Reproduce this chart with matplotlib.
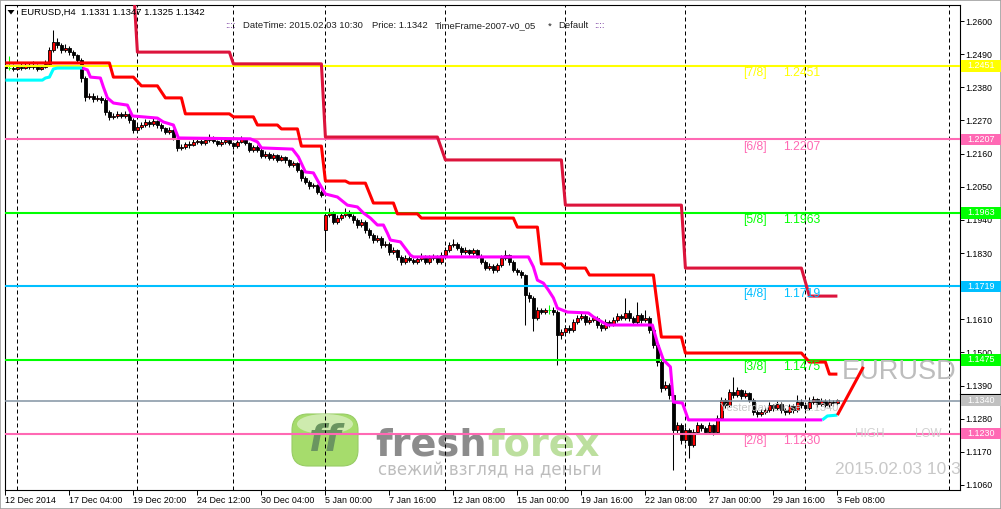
import matplotlib
matplotlib.use("Agg")
import matplotlib.pyplot as plt
import numpy as np
import matplotlib.transforms as mtransforms
from matplotlib.patches import Rectangle, FancyBboxPatch, Ellipse, Polygon
from matplotlib.lines import Line2D

plt.rcParams['font.family'] = ['Liberation Sans', 'DejaVu Sans']

W, H = 1001, 509

# ---------------- data ----------------
symbol_header = "EURUSD,H4  1.1331 1.1347 1.1325 1.1342"
first_open = 1.2451
gap_opens = {80: 1.1906}

closes = [
    1.2444, 1.2444, 1.2441, 1.2448, 1.2444, 1.2455, 1.2447, 1.2451, 1.2441, 1.2448,
    1.2458, 1.2504, 1.2531, 1.2521, 1.2504, 1.2511, 1.2497, 1.2487, 1.2471, 1.2411,
    1.2348, 1.2351, 1.2341, 1.2345, 1.2338, 1.2298, 1.2282, 1.2285, 1.2292, 1.2285,
    1.2292, 1.2272, 1.2238, 1.2248, 1.2255, 1.2265, 1.2258, 1.2268, 1.2255, 1.2245,
    1.2232, 1.2238, 1.2212, 1.2179, 1.2182, 1.2192, 1.2189, 1.2199, 1.2202, 1.2195,
    1.2205, 1.2215, 1.2202, 1.2192, 1.2199, 1.2205, 1.2195, 1.2185, 1.2199, 1.2209,
    1.2195, 1.2172, 1.2182, 1.2172, 1.2152, 1.2159, 1.2145, 1.2155, 1.2139, 1.2149,
    1.2139, 1.2122, 1.2129, 1.2106, 1.2079, 1.2066, 1.2052, 1.2056, 1.2033, 1.2023,
    1.1956, 1.1963, 1.1933, 1.1946, 1.1956, 1.1966, 1.1953, 1.1940, 1.1923, 1.1933,
    1.1906, 1.1890, 1.1873, 1.1880, 1.1857, 1.1860, 1.1833, 1.1840, 1.1817, 1.1800,
    1.1813, 1.1807, 1.1800, 1.1810, 1.1820, 1.1800, 1.1813, 1.1817, 1.1800, 1.1823,
    1.1840, 1.1857, 1.1860, 1.1847, 1.1833, 1.1840, 1.1830, 1.1840, 1.1820, 1.1800,
    1.1780, 1.1787, 1.1774, 1.1790, 1.1813, 1.1823, 1.1800, 1.1774, 1.1767, 1.1757,
    1.1690, 1.1680, 1.1614, 1.1641, 1.1634, 1.1641, 1.1641, 1.1634, 1.1558, 1.1568,
    1.1581, 1.1574, 1.1601, 1.1614, 1.1621, 1.1601, 1.1608, 1.1614, 1.1591, 1.1581,
    1.1601, 1.1594, 1.1608, 1.1621, 1.1614, 1.1631, 1.1614, 1.1601, 1.1624, 1.1608,
    1.1614, 1.1574, 1.1525, 1.1468, 1.1382, 1.1392, 1.1359, 1.1242, 1.1259, 1.1209,
    1.1242, 1.1193, 1.1236, 1.1259, 1.1249, 1.1236, 1.1259, 1.1236, 1.1282, 1.1342,
    1.1325, 1.1369, 1.1359, 1.1375, 1.1355, 1.1365, 1.1342, 1.1302, 1.1295, 1.1302,
    1.1309, 1.1325, 1.1315, 1.1329, 1.1309, 1.1302, 1.1322, 1.1309, 1.1335, 1.1325,
    1.1315, 1.1335, 1.1345, 1.1329, 1.1339, 1.1325, 1.1335, 1.1331, 1.1342,
]

highs = [
    1.2460, 1.2484, 1.2456, 1.2455, 1.2462, 1.2464, 1.2460, 1.2466, 1.2456, 1.2455,
    1.2470, 1.2515, 1.2570, 1.2545, 1.2527, 1.2525, 1.2518, 1.2505, 1.2492, 1.2478,
    1.2418, 1.2362, 1.2360, 1.2354, 1.2352, 1.2343, 1.2305, 1.2296, 1.2302, 1.2298,
    1.2300, 1.2296, 1.2278, 1.2258, 1.2265, 1.2274, 1.2270, 1.2278, 1.2272, 1.2260,
    1.2250, 1.2248, 1.2242, 1.2216, 1.2192, 1.2200, 1.2202, 1.2208, 1.2212, 1.2210,
    1.2214, 1.2226, 1.2220, 1.2206, 1.2208, 1.2215, 1.2210, 1.2200, 1.2206, 1.2218,
    1.2213, 1.2200, 1.2190, 1.2188, 1.2177, 1.2168, 1.2164, 1.2162, 1.2160, 1.2156,
    1.2153, 1.2143, 1.2137, 1.2133, 1.2110, 1.2085, 1.2072, 1.2064, 1.2060, 1.2040,
    1.1966, 1.1978, 1.1968, 1.1955, 1.1966, 1.1978, 1.1972, 1.1958, 1.1945, 1.1942,
    1.1938, 1.1912, 1.1896, 1.1890, 1.1885, 1.1870, 1.1866, 1.1850, 1.1845, 1.1822,
    1.1822, 1.1820, 1.1812, 1.1818, 1.1830, 1.1825, 1.1822, 1.1826, 1.1822, 1.1832,
    1.1850, 1.1866, 1.1875, 1.1866, 1.1852, 1.1850, 1.1845, 1.1848, 1.1845, 1.1826,
    1.1806, 1.1797, 1.1792, 1.1798, 1.1822, 1.1840, 1.1828, 1.1806, 1.1780, 1.1772,
    1.1762, 1.1700, 1.1686, 1.1650, 1.1648, 1.1648, 1.1658, 1.1652, 1.1640, 1.1578,
    1.1590, 1.1592, 1.1610, 1.1625, 1.1630, 1.1626, 1.1618, 1.1622, 1.1620, 1.1598,
    1.1610, 1.1608, 1.1616, 1.1630, 1.1628, 1.1681, 1.1640, 1.1620, 1.1668, 1.1632,
    1.1640, 1.1620, 1.1580, 1.1530, 1.1474, 1.1405, 1.1398, 1.1365, 1.1270, 1.1265,
    1.1252, 1.1248, 1.1245, 1.1268, 1.1265, 1.1256, 1.1268, 1.1264, 1.1292, 1.1352,
    1.1350, 1.1380, 1.1418, 1.1385, 1.1380, 1.1375, 1.1370, 1.1348, 1.1310, 1.1312,
    1.1318, 1.1335, 1.1330, 1.1338, 1.1335, 1.1316, 1.1330, 1.1328, 1.1360, 1.1345,
    1.1332, 1.1352, 1.1356, 1.1350, 1.1348, 1.1345, 1.1344, 1.1342, 1.1347,
]

lows = [
    1.2435, 1.2437, 1.2434, 1.2436, 1.2437, 1.2440, 1.2440, 1.2442, 1.2433, 1.2436,
    1.2443, 1.2452, 1.2498, 1.2510, 1.2495, 1.2498, 1.2486, 1.2478, 1.2462, 1.2398,
    1.2335, 1.2340, 1.2333, 1.2335, 1.2328, 1.2288, 1.2272, 1.2275, 1.2278, 1.2277,
    1.2279, 1.2262, 1.2228, 1.2232, 1.2242, 1.2250, 1.2250, 1.2252, 1.2246, 1.2236,
    1.2224, 1.2226, 1.2204, 1.2170, 1.2172, 1.2176, 1.2180, 1.2184, 1.2193, 1.2188,
    1.2190, 1.2200, 1.2195, 1.2185, 1.2186, 1.2192, 1.2188, 1.2176, 1.2180, 1.2194,
    1.2188, 1.2164, 1.2166, 1.2165, 1.2144, 1.2146, 1.2138, 1.2140, 1.2132, 1.2134,
    1.2130, 1.2115, 1.2117, 1.2098, 1.2070, 1.2058, 1.2044, 1.2046, 1.2025, 1.2015,
    1.1843, 1.1948, 1.1925, 1.1926, 1.1940, 1.1950, 1.1945, 1.1930, 1.1913, 1.1916,
    1.1897, 1.1880, 1.1863, 1.1866, 1.1848, 1.1850, 1.1825, 1.1826, 1.1808, 1.1790,
    1.1794, 1.1799, 1.1792, 1.1794, 1.1805, 1.1792, 1.1795, 1.1806, 1.1792, 1.1795,
    1.1815, 1.1834, 1.1850, 1.1840, 1.1825, 1.1826, 1.1822, 1.1823, 1.1812, 1.1792,
    1.1772, 1.1773, 1.1765, 1.1767, 1.1784, 1.1806, 1.1790, 1.1766, 1.1757, 1.1748,
    1.1591, 1.1668, 1.1570, 1.1606, 1.1627, 1.1628, 1.1628, 1.1625, 1.1458, 1.1545,
    1.1560, 1.1565, 1.1568, 1.1595, 1.1606, 1.1592, 1.1594, 1.1600, 1.1582, 1.1572,
    1.1576, 1.1585, 1.1588, 1.1600, 1.1606, 1.1608, 1.1605, 1.1592, 1.1596, 1.1598,
    1.1600, 1.1565, 1.1515, 1.1455, 1.1370, 1.1375, 1.1345, 1.1110, 1.1230, 1.1195,
    1.1200, 1.1149, 1.1185, 1.1228, 1.1240, 1.1228, 1.1230, 1.1226, 1.1230, 1.1275,
    1.1315, 1.1318, 1.1350, 1.1352, 1.1345, 1.1348, 1.1335, 1.1292, 1.1285, 1.1288,
    1.1295, 1.1302, 1.1306, 1.1308, 1.1300, 1.1292, 1.1296, 1.1300, 1.1303, 1.1316,
    1.1306, 1.1308, 1.1328, 1.1320, 1.1322, 1.1318, 1.1320, 1.1322, 1.1325,
]

x_tick_bars = [0, 16, 32, 48, 64, 80, 96, 112, 128, 144, 160, 176, 192, 208]
x_tick_labels = ["12 Dec 2014", "17 Dec 04:00", "19 Dec 20:00", "24 Dec 12:00",
                 "30 Dec 04:00", "5 Jan 00:00", "7 Jan 16:00", "12 Jan 08:00",
                 "15 Jan 00:00", "19 Jan 16:00", "22 Jan 08:00", "27 Jan 00:00",
                 "29 Jan 16:00", "3 Feb 08:00"]
week_separators = [3, 33, 57, 80, 110, 140, 170, 200, 236]

y_ticks = [1.2600, 1.2490, 1.2380, 1.2270, 1.2160, 1.2050, 1.1940, 1.1830,
           1.1720, 1.1610, 1.1500, 1.1390, 1.1280, 1.1170, 1.1060]

murrey_names = ["[7/8]", "[6/8]", "[5/8]", "[4/8]", "[3/8]", "[2/8]"]
murrey_levels = [1.2451, 1.2207, 1.1963, 1.1719, 1.1475, 1.1230]
murrey_colors = ["#FFFF00", "#FF69B4", "#00FF00", "#00BFFF", "#00FF00", "#FF69B4"]
yesterday_close = 1.1340

red_start = [0, 27, 34, 40, 45, 57, 63, 69, 74, 80, 86, 92, 98, 104, 128, 134, 140, 146, 164, 170, 201, 206]
red_end = [26, 32, 38, 44, 56, 62, 68, 73, 79, 85, 90, 97, 103, 127, 133, 139, 145, 162, 169, 199, 205, 208]
red_level = [1.2461, 1.2414, 1.2385, 1.2345, 1.2292, 1.2282, 1.2255, 1.2242, 1.2185, 1.2069,
             1.2062, 1.1996, 1.1960, 1.1946, 1.1916, 1.1794, 1.1780, 1.1757, 1.1551, 1.1498,
             1.1468, 1.1428]

crimson_start = [28, 33, 57, 80, 110, 140, 170, 201]
crimson_end = [32, 56, 79, 108, 139, 169, 199, 208]
crimson_level = [1.2720, 1.2497, 1.2458, 1.2215, 1.2139, 1.1989, 1.1780, 1.1687]

cyan_a_x = [0, 9.25, 10, 11, 12, 13, 19.25]
cyan_a_y = [1.2404, 1.2404, 1.2411, 1.2414, 1.2441, 1.2444, 1.2444]
magenta_x = [19.25, 20.5, 21.25, 23.75, 24.5, 25.5, 27, 30.5, 31.75, 38, 39.5, 42, 43.25,
             61.25, 63, 64, 71.75, 73.25, 75, 77, 78.25, 80, 83, 85.5, 88, 89.5, 91.25,
             93, 94.5, 95.5, 96.25, 98.75, 101.25, 102, 130.75, 132, 133, 134.5, 135.75,
             137, 138, 140.5, 145.75, 147, 150.5, 161.75, 163, 164.5, 166.25, 167, 169.25,
             170.75, 204.25]
magenta_y = [1.2444, 1.2438, 1.2414, 1.2411, 1.2381, 1.2345, 1.2328, 1.2321, 1.2285, 1.2278,
             1.2265, 1.2255, 1.2212, 1.2209, 1.2199, 1.2179, 1.2175, 1.2149, 1.2099, 1.2096,
             1.2066, 1.2026, 1.2016, 1.1989, 1.1983, 1.1963, 1.1946, 1.1923, 1.1923, 1.1896,
             1.1873, 1.1867, 1.1823, 1.1817, 1.1817, 1.1784, 1.1740, 1.1730, 1.1707, 1.1681,
             1.1647, 1.1634, 1.1631, 1.1618, 1.1591, 1.1591, 1.1531, 1.1475, 1.1452, 1.1335,
             1.1332, 1.1276, 1.1276]
cyan_b_x = [204.25, 205.5, 208]
cyan_b_y = [1.1276, 1.1289, 1.1292]
projection_x = [208, 214.5]
projection_y = [1.1292, 1.1452]

# ---------------- figure ----------------
fig = plt.figure(figsize=(W / 100, H / 100), dpi=100)
fig.patch.set_facecolor("white")
L, R, T, B = 5, 959.5, 5, 489.5
ax = fig.add_axes([L / W, 1 - B / H, (R - L) / W, (B - T) / H])
ax.set_facecolor("white")

n = len(closes)
x = np.arange(n)
c = np.array(closes)
o = np.array([first_open] + closes[:-1])
for k, v in gap_opens.items():
    o[k] = v
hi = np.array(highs)
lo = np.array(lows)

ax.set_xlim(-0.1, -0.1 + (R - L) / 4.0)
ax.set_ylim(1.10449, 1.26534)

# week separators
for s in week_separators:
    ax.axvline(s, color="black", lw=0.72, ls=(0, (4, 3)), zorder=1.5)

# watermark (logo) - figure pixels via inches transform
def px(xp, yp):
    return (xp / 100.0, (H - yp) / 100.0)

logo = FancyBboxPatch(px(292, 466), 0.66, 0.52,
                      boxstyle="round,pad=0,rounding_size=0.16",
                      transform=fig.dpi_scale_trans, facecolor="#a6dc6c",
                      edgecolor="#98cc66", lw=0.8, zorder=0.5)
ax.add_artist(logo)
logo.set_clip_on(False)
hl = Ellipse(px(325, 424), 0.56, 0.2, transform=fig.dpi_scale_trans,
             facecolor="white", alpha=0.45, zorder=0.6, lw=0)
ax.add_artist(hl)
hl.set_clip_on(False)
ax.text(*px(324, 441), "ff", transform=fig.dpi_scale_trans, fontsize=27,
        fontweight="bold", style="italic", color="#6a9560", ha="center",
        va="center", family="DejaVu Sans", zorder=0.7)
t_fresh = ax.text(*px(375, 455), "fresh", transform=fig.dpi_scale_trans, fontsize=27.5,
                  fontweight="bold", color="#8c8c8c", ha="left", va="baseline",
                  family="DejaVu Sans", zorder=0.7)
ax.text(*px(378, 475), "свежий взгляд на деньги", transform=fig.dpi_scale_trans,
        fontsize=12, color="#bdbdbd", ha="left", va="baseline",
        family="DejaVu Sans", zorder=0.7)

fig.canvas.draw()
fresh_x1 = t_fresh.get_window_extent().x1  # display pixels
ax.text(fresh_x1 / 100.0 + 0.01, (H - 455) / 100.0, "forex", transform=fig.dpi_scale_trans,
        fontsize=27.5, fontweight="bold", color="#bcdf9e", ha="left", va="baseline",
        family="DejaVu Sans", zorder=0.7)

# candles
wick_col = np.where(c == o, "#00FF00", "black")
ax.vlines(x, lo, hi, colors=list(wick_col), lw=0.75, zorder=2)
bull = c > o
bear = c < o
doji = c == o
ax.bar(x[bull], (c - o)[bull], bottom=o[bull], width=0.72, color="#FF0000",
       edgecolor="black", lw=0.6, zorder=2.5)
ax.bar(x[bear], (o - c)[bear], bottom=c[bear], width=0.72, color="black",
       edgecolor="black", lw=0.6, zorder=2.5)
ax.hlines(c[doji], x[doji] - 0.45, x[doji] + 0.45, colors="#00FF00", lw=0.8, zorder=2.5)

# murrey levels
for name, lev, col in zip(murrey_names, murrey_levels, murrey_colors):
    ax.axhline(lev, color=col, lw=1.5, zorder=3)
    ax.annotate(name, xy=(184.4, lev), xytext=(0, -5.4), textcoords="offset points",
                fontsize=8.7, color=col, ha="left", va="center", zorder=5)
    ax.annotate(f"{lev:.4f}", xy=(194.4, lev), xytext=(0, -5.4), textcoords="offset points",
                fontsize=8.7, color=col, ha="left", va="center", zorder=5)
ax.axhline(yesterday_close, color="#8393a3", lw=1.1, zorder=3)

# indicator step lines
def steps(starts, ends, levels):
    sx, sy = [], []
    for s, e, l in zip(starts, ends, levels):
        sx += [s, e]
        sy += [l, l]
    return sx, sy

rx, ry = steps(red_start, red_end, red_level)
ax.plot(rx, ry, color="#FF0000", lw=2.2, zorder=4, solid_capstyle="butt")
cx, cy = steps(crimson_start, crimson_end, crimson_level)
ax.plot(cx, cy, color="#DC143C", lw=2.2, zorder=4, solid_capstyle="butt")
ax.plot(cyan_a_x, cyan_a_y, color="#00FFFF", lw=2.2, zorder=4, solid_capstyle="butt")
ax.plot(magenta_x, magenta_y, color="#FF00FF", lw=2.2, zorder=4, solid_capstyle="butt")
ax.plot(cyan_b_x, cyan_b_y, color="#00FFFF", lw=2.2, zorder=4, solid_capstyle="butt")
ax.plot(projection_x, projection_y, color="#FF0000", lw=2.2, zorder=4, solid_capstyle="butt")

# in-chart texts
ax.text(209.15, 1.1435, "EURUSD", fontsize=19.5, color="#bdbdbd", ha="left",
        va="center", zorder=3.5)
ax.text(178.65, 1.1315, "Yesterday Close 1.1340", fontsize=8, color="#c8c8c8",
        ha="left", va="center", zorder=3.5)
ax.text(212.4, 1.1229, "HIGH", fontsize=8.5, color="#d0d0d0", ha="left", va="center", zorder=3.5)
ax.text(227.4, 1.1229, "LOW", fontsize=8.5, color="#d0d0d0", ha="left", va="center", zorder=3.5)
ax.text(207.4, 1.1110, "2015.02.03 10:30", fontsize=12.5, color="#c8c8c8",
        ha="left", va="center", zorder=3.5, clip_on=True)

# axes styling
for sp in ax.spines.values():
    sp.set_color("black")
    sp.set_linewidth(0.8)
ax.yaxis.tick_right()
ax.set_yticks(y_ticks)
ax.set_yticklabels([f"{v:.4f}" for v in y_ticks])
ax.tick_params(axis="y", direction="out", length=3, width=0.7, pad=1.5,
               labelsize=6.3, colors="black")
ax.set_xticks(x_tick_bars)
ax.set_xticklabels(x_tick_labels)
ax.tick_params(axis="x", direction="out", length=3.5, width=0.7, pad=1.0,
               labelsize=6.4, colors="black")
for t in ax.get_xticklabels():
    t.set_ha("left")

# price boxes on right axis
btrans = mtransforms.blended_transform_factory(fig.transFigure, ax.transData)
box_levels = murrey_levels + [yesterday_close]
box_colors = murrey_colors + ["#C0C0C0"]
bh = 11.5 * 0.000332
for lev, col in zip(box_levels, box_colors):
    r = Rectangle((961 / W, lev - bh / 2), 40 / W, bh, transform=btrans,
                  facecolor=col, edgecolor="none", clip_on=False, zorder=6)
    fig.add_artist(r)
    fig.text(981 / W, lev, f"{lev:.4f}", transform=btrans, fontsize=6.5,
             color="white", ha="center", va="center", zorder=7)
fig.add_artist(Line2D([960 / W, 1.0], [yesterday_close + bh / 2 + 0.0002] * 2,
                      transform=btrans, color="black", lw=0.8))

# header texts
def ftxt(xp, yp, s, **kw):
    fig.text(xp / W, 1 - yp / H, s, va="center", ha="left", **kw)

tri = Polygon([[7.5 / W, 1 - 10 / H], [14.5 / W, 1 - 10 / H], [11 / W, 1 - 14.5 / H]],
              closed=True, transform=fig.transFigure, color="black", lw=0)
fig.add_artist(tri)
ftxt(21, 12.5, symbol_header, fontsize=6.8, color="black")
ftxt(225, 26, "::::", fontsize=6.8, color="#7a3fa0")
ftxt(243, 26, "DateTime: 2015.02.03 10:30", fontsize=6.8, color="#202020")
ftxt(372, 26, "Price: 1.1342", fontsize=6.8, color="#202020")
ftxt(435, 26, "TimeFrame-2007-v0_05", fontsize=6.8, color="#202020")
ftxt(548, 26, "*", fontsize=6.8, color="#202020")
ftxt(558, 26, "Default", fontsize=6.8, color="#202020")
ftxt(594, 26, "::::", fontsize=6.8, color="#7a3fa0")

# outer frame
fig.add_artist(Rectangle((0, 0), 1, 1, transform=fig.transFigure, fill=False,
                         edgecolor="#a0a0a0", lw=1.2))

fig.savefig("out.png", dpi=100)
